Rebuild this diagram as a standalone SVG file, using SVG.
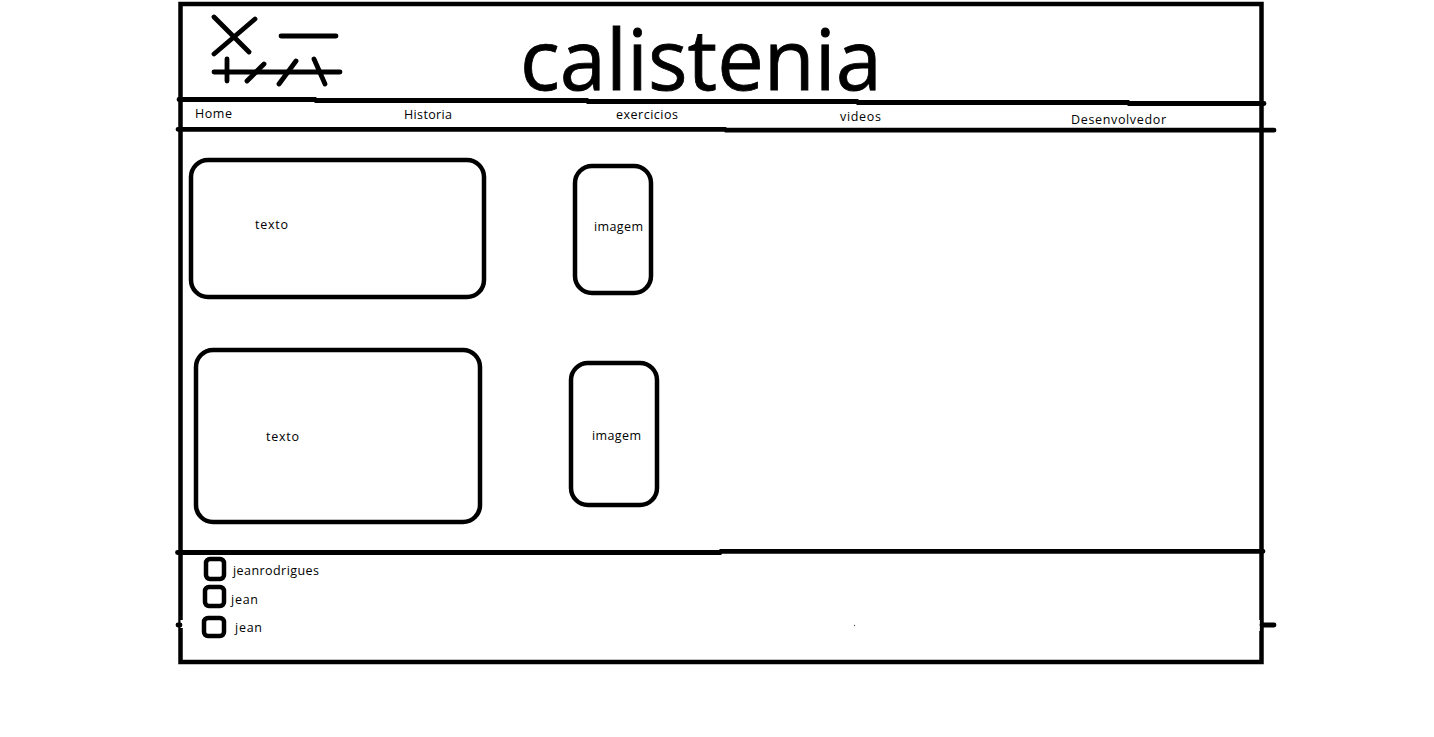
<svg xmlns="http://www.w3.org/2000/svg" width="1434" height="737" viewBox="0 0 1434 737">
<style>
.l{stroke:#000;stroke-width:4.800;fill:none;stroke-linecap:round}
.f{stroke:#000;stroke-width:4.500;fill:none;stroke-linecap:butt}
.b{stroke:#000;stroke-width:4.500;fill:#fff}
.t{font-family:"Open Sans","Noto Sans",sans-serif;font-size:12.500px;fill:#000}
.h{font-family:"Open Sans","Noto Sans",sans-serif;font-size:84px;fill:#000;stroke:#000;stroke-width:0.800}
</style>
<rect width="1434" height="737" fill="#fff"/>
<g id="frame">
<rect class="f" x="180.500" y="4" width="1081" height="658"/>
<rect x="180.500" y="620" width="2.500" height="8" fill="#fff"/>
<rect x="1259" y="620" width="0.800" height="11" fill="#fff"/>
<circle cx="854.500" cy="625.500" r="0.700" fill="#555"/>
</g>
<g id="connectors">
<path class="l" d="M179 99.500H315L316 100.500H587L588 101.500H857L858 102.500H1128L1129 103.500H1264"/>
<path class="l" d="M178 129.300H725L726 130.200H1274"/>
<path class="l" d="M177.500 552.500H720L721 551.300H1263"/>
<path class="l" d="M1262 625H1274"/>
<path class="l" d="M178 625H180"/>
</g>
<g id="logo">
<path class="l" d="M214 17L249 52M255 19L214 54"/>
<path class="l" d="M281 36H336"/>
<path class="l" d="M214 72H340"/>
<path class="l" d="M227 59V81M247 81L264 64M279 84L296 61M314 59L325 84"/>
</g>
<g id="titulo"><text class="h" x="520" y="90" textLength="362" lengthAdjust="spacingAndGlyphs">calistenia</text></g>
<g id="nav">
<text class="t" x="195" y="118" textLength="37">Home</text>
<text class="t" x="404" y="119" textLength="48">Historia</text>
<text class="t" x="616" y="119" textLength="62">exercicios</text>
<text class="t" x="840" y="121" textLength="41">videos</text>
<text class="t" x="1071" y="124" textLength="95">Desenvolvedor</text>
</g>
<g id="texto1"><rect class="b" x="191" y="160" width="293" height="137" rx="17"/><text class="t" x="255" y="229" textLength="33">texto</text></g>
<g id="imagem1"><rect class="b" x="575" y="166" width="76" height="127" rx="17"/><text class="t" x="594" y="231" textLength="49">imagem</text></g>
<g id="texto2"><rect class="b" x="196" y="350" width="284" height="172" rx="17"/><text class="t" x="266" y="441" textLength="33">texto</text></g>
<g id="imagem2"><rect class="b" x="571" y="363" width="86" height="142" rx="17"/><text class="t" x="592" y="440" textLength="49">imagem</text></g>
<g id="contato1"><rect class="b" x="206" y="559" width="18" height="20" rx="4"/><text class="t" x="233" y="575" textLength="86">jeanrodrigues</text></g>
<g id="contato2"><rect class="b" x="205" y="587" width="19" height="19" rx="4"/><text class="t" x="231" y="604" textLength="27">jean</text></g>
<g id="contato3"><rect class="b" x="204" y="618" width="20" height="18" rx="4"/><text class="t" x="235" y="632" textLength="27">jean</text></g>
</svg>
